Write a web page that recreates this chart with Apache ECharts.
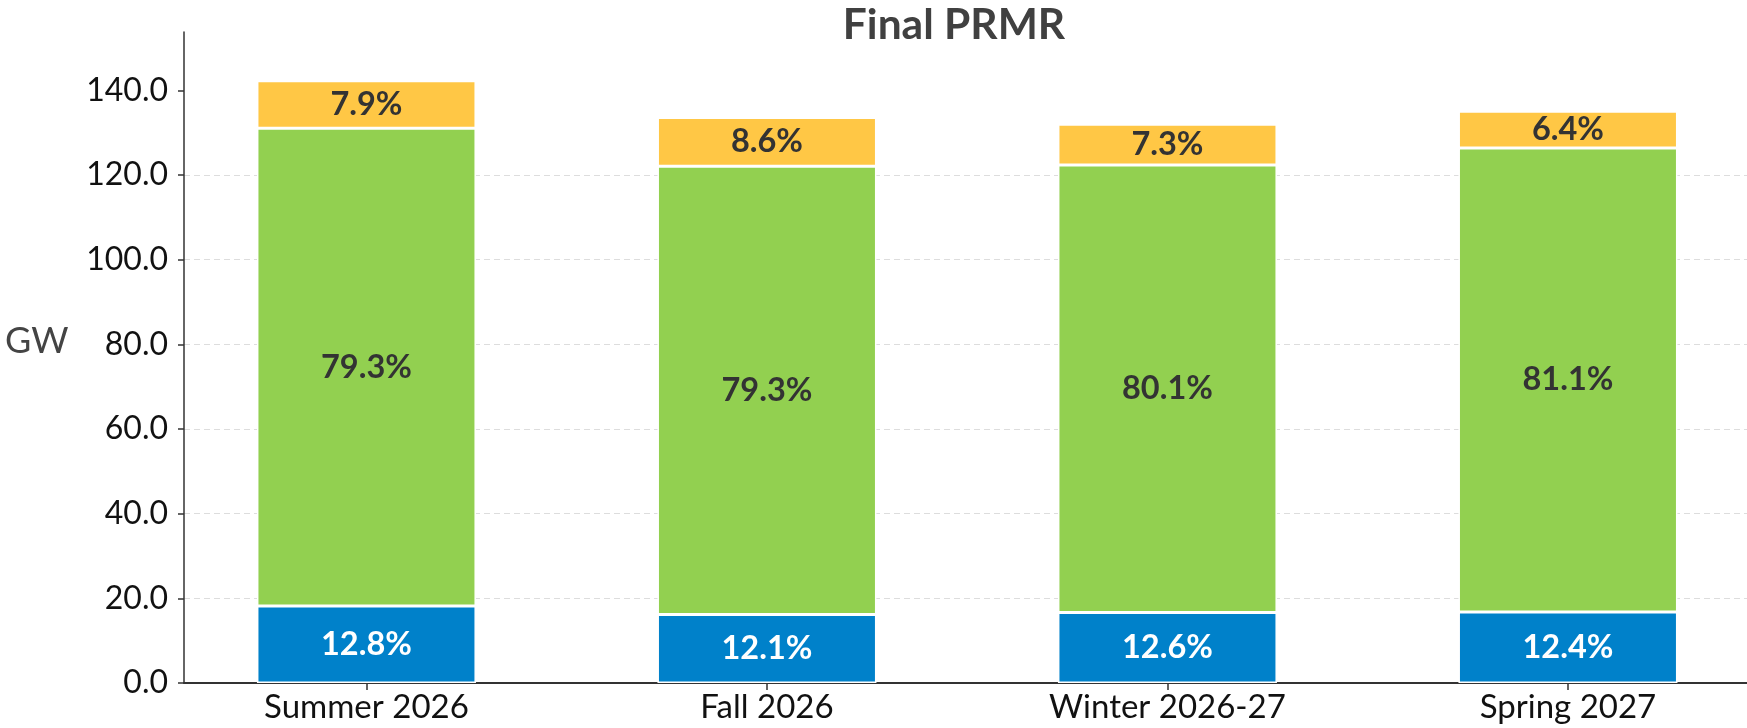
<!DOCTYPE html>
<html>
<head>
<meta charset="utf-8">
<script src="https://cdn.jsdelivr.net/npm/echarts@6/dist/echarts.min.js"></script>
<style>
html,body{margin:0;padding:0;background:#fff;}
#chart{width:1747px;height:728px;}
</style>
</head>
<body>
<div id="chart"></div>
<script>
const categories = ['Summer 2026', 'Fall 2026', 'Winter 2026-27', 'Spring 2027'];
const totalsGW = [142.3, 133.6, 132.0, 135.2];
const pctBlue = [12.8, 12.1, 12.6, 12.4];
const pctGreen = [79.3, 79.3, 80.1, 81.1];
const pctYellow = [7.9, 8.6, 7.3, 6.4];
const yTicks = [0, 20, 40, 60, 80, 100, 120, 140];

const FONT = 'Lato';
const Y_MAX = 153.8;
const chart = echarts.init(document.getElementById('chart'));

function seriesData(pcts) {
  return categories.map((c, i) => ({ value: totalsGW[i] * pcts[i] / 100, pct: pcts[i] }));
}
function mkSeries(name, pcts, color, labelColor) {
  return {
    name: name,
    type: 'bar',
    stack: 'total',
    xAxisIndex: 0,
    yAxisIndex: 0,
    barWidth: 219,
    data: seriesData(pcts),
    itemStyle: { color: color, borderColor: '#ffffff', borderWidth: 1.5 },
    label: {
      show: true,
      position: 'inside',
      formatter: p => p.data.pct.toFixed(1) + '%',
      color: labelColor,
      fontFamily: FONT,
      fontSize: 32.5,
      fontWeight: 'bold'
    }
  };
}

chart.setOption({
  animation: false,
  backgroundColor: '#ffffff',
  title: [
    { text: 'Final PRMR', left: 949, top: -1, textAlign: 'center',
      textStyle: { fontFamily: FONT, fontSize: 42.5, fontWeight: 'bold', color: '#404040' } },
    { text: 'GW', left: 0, top: 318,
      textStyle: { fontFamily: FONT, fontSize: 36, fontWeight: 'normal', color: '#444444' } }
  ],
  grid: [
    { left: 166.2, width: 1602, top: 32, bottom: 45, containLabel: false, outerBoundsMode: 'none' },
    { left: 184, right: 0, top: 32, bottom: 45, containLabel: false, outerBoundsMode: 'none' }
  ],
  xAxis: [
    {
      type: 'category', gridIndex: 0, data: categories,
      axisLine: { show: false },
      axisTick: { show: true, alignWithLabel: true, length: 7, lineStyle: { color: '#333333', width: 1.5 } },
      axisLabel: { fontFamily: FONT, fontSize: 33, color: '#111111', margin: 8 },
      splitLine: { show: false }
    },
    {
      type: 'value', gridIndex: 1, min: 0, max: 1,
      axisLine: { show: true, onZero: false, lineStyle: { color: '#333333', width: 2 } },
      axisTick: { show: false }, axisLabel: { show: false }, splitLine: { show: false }
    }
  ],
  yAxis: [
    {
      type: 'value', gridIndex: 0, min: 0, max: Y_MAX,
      axisLine: { show: false }, axisTick: { show: false }, axisLabel: { show: false }, splitLine: { show: false }
    },
    {
      type: 'value', gridIndex: 1, min: 0, max: Y_MAX, interval: 20,
      axisLine: { show: true, onZero: false, lineStyle: { color: '#333333', width: 1.5 } },
      axisTick: { show: true, customValues: yTicks, length: 6, lineStyle: { color: '#333333', width: 1.5 } },
      axisLabel: { customValues: yTicks, formatter: v => v.toFixed(1), fontFamily: FONT, fontSize: 32, color: '#111111', margin: 16 },
      splitLine: { show: true, showMaxLine: false, lineStyle: { color: '#dddddd', width: 1, type: [6, 4] } }
    }
  ],
  series: [
    mkSeries('Blue', pctBlue, '#0081CA', '#ffffff'),
    mkSeries('Green', pctGreen, '#92D050', '#333333'),
    mkSeries('Yellow', pctYellow, '#FFC745', '#333333')
  ]
});
</script>
</body>
</html>
